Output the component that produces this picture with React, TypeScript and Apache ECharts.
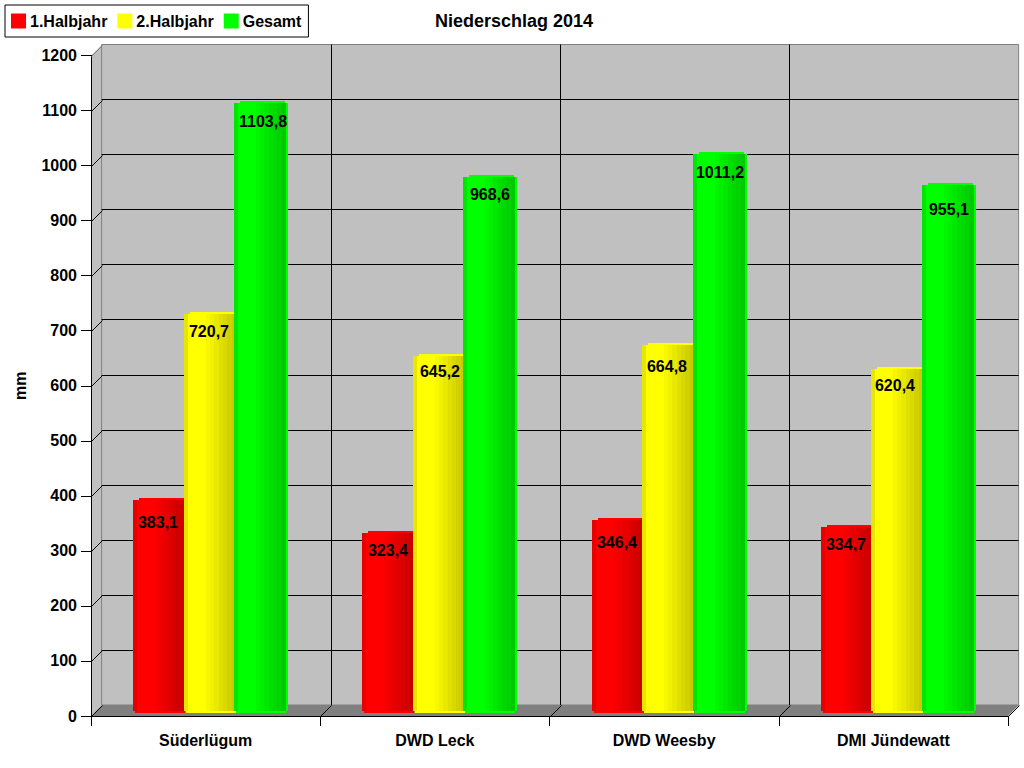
import React, { useEffect, useRef } from "react";
import * as echarts from "echarts";

const categories = ["Süderlügum", "DWD Leck", "DWD Weesby", "DMI Jündewatt"];
const halbjahr1 = [383.1, 323.4, 346.4, 334.7];
const halbjahr2 = [720.7, 645.2, 664.8, 620.4];
const gesamt = [1103.8, 968.6, 1011.2, 955.1];
const labelDrop1 = [24, 19, 24, 19];
const labelDrop2 = [19, 17, 23, 18];
const labelDrop3 = [20, 19, 20, 26];
const labelShift1 = [25, 26, 25, 25];
const labelShift2 = [25, 27, 25, 24];
const labelShift3 = [29, 27, 27, 27];
const yTicks = [0, 100, 200, 300, 400, 500, 600, 700, 800, 900, 1000, 1100, 1200];

const FONT = '"Liberation Sans", Arial, sans-serif';
const L = 91, T = 55.5, W = 917, H = 660.5, D = 11;
const PAGE_W = 1024, PAGE_H = 768;
const BAR_W = 54, BAR_STEP = 50.5;
const shades = [0.9, 1, 1, 1, 1, 0.97, 0.94, 0.91, 0.88, 0.85, 0.82, 0.79];

const rgb = (c: number[], f: number) =>
  `rgb(${Math.round(c[0] * f)},${Math.round(c[1] * f)},${Math.round(c[2] * f)})`;

function barGradient(c: number[]) {
  const stops: any[] = [];
  const inner = 0.96;
  shades.forEach((s, i) => {
    stops.push({ offset: (i / shades.length) * inner, color: rgb(c, s) });
    stops.push({ offset: ((i + 1) / shades.length) * inner, color: rgb(c, s) });
  });
  stops.push({ offset: inner, color: rgb(c, 1) });
  stops.push({ offset: 1, color: rgb(c, 1) });
  return new echarts.graphic.LinearGradient(0, 0, 1, 0, stops);
}

function cylinderSeries(name: string, values: number[], drops: number[], shifts: number[], c: number[], idx: number) {
  const fill = barGradient(c);
  return {
    type: "custom",
    name,
    xAxisIndex: 2,
    yAxisIndex: 2,
    itemStyle: { color: rgb(c, 1) },
    encode: { x: 0, y: 1 },
    clip: false,
    z: 3 + idx,
    data: values.map((v, i) => [i, v]),
    renderItem: (_p: any, api: any) => {
      const i = api.value(0);
      const v = api.value(1);
      const top = api.coord([i, v]);
      const base = api.coord([i, 0]);
      const x = Math.round(top[0] + (idx - 1) * BAR_STEP - BAR_W / 2);
      const yTop = Math.round(top[1]);
      const yBase = Math.round(base[1]);
      return {
        type: "group",
        children: [
          { type: "rect", shape: { x: x + 6, y: yTop, width: BAR_W - 9, height: 4 }, style: { fill: rgb(c, 1) } },
          { type: "rect", shape: { x: x + 2, y: yBase, width: BAR_W - 4, height: 4 }, style: { fill: rgb(c, 1) } },
          { type: "rect", shape: { x, y: yTop + 2, width: BAR_W, height: yBase - yTop }, style: { fill } },
          {
            type: "text",
            style: {
              x: x + shifts[i],
              y: yTop + drops[i],
              text: v.toFixed(1).replace(".", ","),
              fill: "#000",
              font: `bold 16px ${FONT}`,
              align: "center",
              verticalAlign: "middle",
            },
          },
        ],
      };
    },
  };
}

function frameSeries() {
  return {
    type: "custom",
    xAxisIndex: 0,
    yAxisIndex: 0,
    silent: true,
    clip: false,
    z: 1,
    encode: { x: 0, y: 1 },
    data: yTicks.map((v) => [0, v]),
    renderItem: (p: any, api: any) => {
      const cs = p.coordSys;
      const v = api.value(1);
      const y = Math.round(api.coord([0, v])[1]);
      const gray = v === yTicks[yTicks.length - 1];
      const children: any[] = [
        {
          type: "line",
          shape: { x1: cs.x + 0.5, y1: y + 0.5, x2: cs.x + D + 0.5, y2: y - D + 0.5 },
          style: { stroke: gray ? "#808080" : "#000", lineWidth: 1 },
        },
      ];
      if (p.dataIndex === 0) {
        categories.forEach((_c, k) => {
          const xk = Math.round(cs.x + ((k + 1) * cs.width) / categories.length);
          children.push({
            type: "line",
            shape: { x1: xk + 0.5, y1: y + 0.5, x2: xk + D + 0.5, y2: y - D + 0.5 },
            style: { stroke: "#000", lineWidth: 1 },
          });
        });
      }
      return { type: "group", children };
    },
  };
}

export default function App() {
  const ref = useRef<HTMLDivElement>(null);
  useEffect(() => {
    const chart = echarts.init(ref.current!, null, { renderer: "svg" });
    const hiddenX = (gridIndex: number) => ({
      type: "category" as const,
      gridIndex,
      data: categories,
      axisLine: { show: false },
      axisTick: { show: false },
      axisLabel: { show: false },
    });
    const hiddenY = (gridIndex: number) => ({
      type: "value" as const,
      gridIndex,
      min: 0,
      max: 1200,
      interval: 100,
      axisLine: { show: false },
      axisTick: { show: false },
      axisLabel: { show: false },
      splitLine: { show: false },
    });
    chart.setOption({
      animation: false,
      backgroundColor: "#fff",
      textStyle: { fontFamily: FONT },
      title: {
        text: "Niederschlag 2014",
        left: 435,
        top: 12,
        padding: 0,
        textStyle: { fontFamily: FONT, fontSize: 18, fontWeight: "bold", color: "#000" },
      },
      legend: {
        left: 5,
        top: 5,
        orient: "horizontal",
        data: ["1.Halbjahr", "2.Halbjahr", "Gesamt"],
        icon: "rect",
        itemWidth: 15,
        itemHeight: 15,
        itemGap: 10,
        padding: [8, 7, 8, 6],
        borderColor: "#000",
        borderWidth: 1,
        backgroundColor: "#fff",
        textStyle: { fontFamily: FONT, fontSize: 16, fontWeight: "bold", color: "#000", padding: [0, 0, 0, -1] },
      },
      grid: [
        { left: L, top: T, width: W, height: H, containLabel: false },
        { left: L + D - 0.4, top: T - D, width: W, height: H, show: true, backgroundColor: "#c0c0c0", borderColor: "#808080", borderWidth: 1, z: -1 },
        { left: L + D / 2 - 0.4, top: 48, width: W, height: 661 },
      ],
      graphic: [
        {
          type: "polygon",
          z: -2,
          silent: true,
          shape: { points: [[L, T], [L + D, T - D], [L + D, T + H - D], [L, T + H]] },
          style: { fill: "#c0c0c0" },
        },
        {
          type: "polygon",
          z: -2,
          silent: true,
          shape: { points: [[L, T + H], [L + D, T + H - D], [L + W + D, T + H - D], [L + W, T + H]] },
          style: { fill: "#808080" },
        },
      ],
      xAxis: [
        {
          type: "category",
          gridIndex: 0,
          data: categories,
          axisLine: { show: true, lineStyle: { color: "#000", width: 1 } },
          axisTick: { show: true, length: 10, alignWithLabel: false, interval: 0, lineStyle: { color: "#000" } },
          axisLabel: { show: true, interval: 0, margin: 16, color: "#000", fontFamily: FONT, fontSize: 16, fontWeight: "bold" },
          splitLine: { show: false },
        },
        {
          ...hiddenX(1),
          splitLine: { show: true, interval: 0, showMinLine: false, showMaxLine: false, lineStyle: { color: "#000", width: 1 } },
        },
        hiddenX(2),
      ],
      yAxis: [
        {
          type: "value",
          gridIndex: 0,
          min: 0,
          max: 1200,
          interval: 100,
          name: "mm",
          nameLocation: "middle",
          nameGap: 63,
          nameTextStyle: { color: "#000", fontFamily: FONT, fontSize: 16, fontWeight: "bold" },
          axisLine: { show: true, lineStyle: { color: "#000", width: 1 } },
          axisTick: { show: true, length: 10, lineStyle: { color: "#000" } },
          axisLabel: { show: true, margin: 14, color: "#000", fontFamily: FONT, fontSize: 16, fontWeight: "bold", formatter: (v: number) => String(v) },
          splitLine: { show: false },
        },
        {
          ...hiddenY(1),
          splitLine: { show: true, showMinLine: false, showMaxLine: false, lineStyle: { color: "#000", width: 1 } },
        },
        hiddenY(2),
      ],
      series: [
        frameSeries(),
        cylinderSeries("1.Halbjahr", halbjahr1, labelDrop1, labelShift1, [255, 0, 0], 0),
        cylinderSeries("2.Halbjahr", halbjahr2, labelDrop2, labelShift2, [255, 255, 0], 1),
        cylinderSeries("Gesamt", gesamt, labelDrop3, labelShift3, [0, 255, 0], 2),
      ],
    });
    return () => chart.dispose();
  }, []);
  return <div ref={ref} style={{ position: "absolute", left: 0, top: 0, width: PAGE_W, height: PAGE_H }} />;
}
